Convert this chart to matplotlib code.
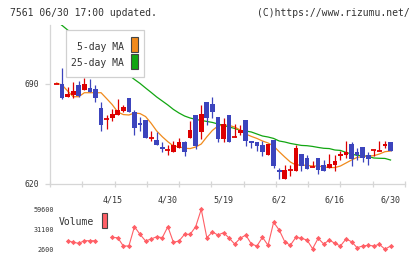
import numpy as np
import matplotlib
matplotlib.use("Agg")
import matplotlib.pyplot as plt
from matplotlib.patches import Rectangle

W, H = 420, 259

# daily candles (index 0 .. 60)
opens = [690, 690, 680.7, 682.3, 689.3, 685.8, 687.2, 686.5, 673.2, 665.3,
         666.4, 668.1, 671.1, 680.2, 670.4, 662.5, 664.8, 652.4, 650.8, 646.1,
         643.8, 642.6, 645.4, 649.4, 652.4, 668.3, 656.6, 677.4, 676, 666.9,
         651.7, 668.3, 652.7, 655.9, 664.8, 650.1, 649.4, 647.3, 640.3, 651,
         629.8, 623.7, 629.8, 629.1, 641.2, 638.2, 631.9, 638.2, 633.3, 631.4,
         633.3, 639.6, 640.3, 648, 642.4, 645.9, 640.3, 643.8, 643.1, 646.6,
         649.4]
highs = [690, 701.4, 687.7, 691.6, 692.1, 694, 693.5, 689.3, 677.6, 668.3,
         672.7, 679.5, 675.1, 680.2, 671.8, 666.9, 664.8, 656.9, 656.4, 649.6,
         647.3, 650.3, 652.2, 650.3, 664.1, 668.3, 675.3, 677.4, 680.9, 666.9,
         666.2, 668.3, 662, 661.3, 664.8, 650.1, 649.4, 650.1, 648, 651,
         631.2, 633.3, 633.3, 647.3, 641.2, 640.3, 636.1, 638.2, 636.8, 641,
         640.3, 643.1, 650.1, 649.4, 645.2, 645.9, 642.4, 643.8, 650.1, 650.1,
         649.4]
lows = [690, 679.3, 680.7, 680, 681, 685.8, 684.6, 677.4, 657.3, 658.7,
        664.3, 668.1, 670.6, 670.6, 654.3, 656.9, 652.4, 650.1, 647.3, 642.4,
        640.3, 642.6, 645.4, 639.6, 652.4, 644.5, 651.7, 661.3, 666, 649.6,
        649.6, 649.6, 652.7, 654.3, 646.6, 645.4, 643.3, 639.6, 640.3, 631.2,
        623.7, 623.7, 625.6, 629.1, 629.1, 630.5, 631.9, 627, 629.3, 631.4,
        629.3, 636.8, 638.2, 632.6, 636.8, 635.4, 633.3, 639.6, 643.1, 645.4,
        643.1]
closes = [690, 680.2, 683, 685.1, 681.8, 690, 684.6, 680.4, 661.5, 665.3,
          669, 671.8, 673.9, 670.6, 659.4, 661.1, 652.4, 652.4, 647.3, 644.5,
          643.8, 647.3, 649.4, 642.6, 657.8, 646.6, 669, 666, 670.2, 651.7,
          662, 649.6, 652.7, 657.8, 650.3, 648.9, 646.8, 642.4, 648, 632.6,
          628.6, 629.8, 629.8, 645.4, 632.6, 630.5, 631.9, 629.8, 629.3, 634,
          636.1, 641, 642.4, 637.5, 640.3, 638.2, 637.7, 643.8, 643.1, 648,
          643.1]

ma5 = [690.7, 689.3, 685.1, 681.1, 681.1, 683.9, 683.9, 683.9, 683.9, 679.8,
       675.6, 670.4, 668.6, 668.3, 669.7, 669.3, 667.2, 662.5, 657.1, 653.1,
       649.6, 646.6, 646.1, 645.0, 644.8, 645.9, 648.0, 653.0, 657.5, 660.6,
       661.3, 661.0, 659.9, 657.8, 655.0, 653.3, 651.9, 650.1, 648.7, 646.6,
       642.6, 638.9, 635.4, 633.3, 633.3, 633.0, 632.6, 632.6, 631.9, 631.5,
       631.5, 632.6, 634.7, 636.8, 638.6, 639.2, 639.6, 639.8, 641.0, 642.6,
       643.1]
ma25 = [734.1, 731.0, 727.8, 725.0, 722.2, 719.4, 716.3, 713.1, 710.3, 707.5,
        704.7, 701.9, 699.1, 696.3, 693.2, 690.4, 687.2, 684.1, 680.9, 678.1,
        675.3, 672.2, 669.7, 667.6, 666.2, 665.2, 664.5, 663.8, 663.1, 662.0,
        661.0, 659.9, 658.9, 657.5, 657.1, 656.4, 655.0, 653.6, 652.9, 651.9,
        650.1, 649.4, 648.4, 647.7, 647.0, 646.8, 646.3, 645.6, 645.0, 644.8,
        643.8, 643.5, 642.1, 641.0, 640.0, 639.8, 639.3, 638.2, 638.0, 637.9,
        636.8]

nan = float("nan")
volume = [nan, nan, 14400, 12150, 10700, 14400, 14400, 14400, nan, nan,
          19000, 18700, 6900, 6900, 34400, 23500, 14000, 16850, 20100, 18700,
          34400, 12150, 14000, 23500, 23500, 34400, 59200, 18700, 26800, 22550,
          25800, 18300, 9700, 17850, 22550, 9700, 6900, 19300, 7900, 40650,
          29700, 13000, 7900, 19300, 17850, 15400, 3000, 17850, 9700, 15400,
          10700, 6900, 16850, 13000, 4450, 6900, 7900, 6900, 9300, 2200,
          6900]

date_pos = [10, 20, 30, 40, 50, 60]
date_labels = ["4/15", "4/30", "5/19", "6/2", "6/16", "6/30"]
price_ticks = [620, 690]
vol_ticks = [2600, 31100, 59600]

RED = "#dd0000"
BLUE = "#3c44bd"
ORANGE = "#f08a1c"
GREEN = "#12a612"
VOLC = "#ff5f66"
GRID = "#d6d6d6"
TXT = "#333333"
mono = "DejaVu Sans Mono"


def fx(x):
    return x / W


def fy(y):
    return 1 - y / H


fig = plt.figure(figsize=(W / 100, H / 100), dpi=100)
fig.patch.set_facecolor("white")

# price panel
ax = fig.add_axes([fx(50), fy(184), fx(405) - fx(50), fy(25) - fy(184)])
ax.set_xlim(-1.17, 62.6)
ax.set_ylim(620, 731.3)

idx = np.arange(len(opens))
o, h, l, c = map(np.array, (opens, highs, lows, closes))
cols = np.where(c >= o, RED, BLUE)

ax.plot(idx, ma25, color=GREEN, lw=0.9, zorder=2)
ax.plot(idx, ma5, color=ORANGE, lw=0.9, zorder=2)

ax.vlines(idx, l, h, colors=cols, linewidth=0.9, zorder=3)
body = np.abs(c - o)
flat = body < 0.6
ax.bar(idx[~flat], body[~flat], bottom=np.minimum(o, c)[~flat], width=0.84,
       color=cols[~flat], linewidth=0, zorder=4)
ax.hlines(o[flat], idx[flat] - 0.45, idx[flat] + 0.45, colors=cols[flat],
          linewidth=1.3, zorder=4)

for s in ["top", "right"]:
    ax.spines[s].set_visible(False)
for s in ["left", "bottom"]:
    ax.spines[s].set_color(GRID)
    ax.spines[s].set_linewidth(0.9)

ax.set_yticks(price_ticks, [str(p) for p in price_ticks], family=mono)
ax.tick_params(axis="y", length=3.6, width=0.9, color=GRID, pad=4,
               labelsize=5.8, labelcolor=TXT)
ax.set_xticks(date_pos, date_labels, family=mono)
x0, x1 = ax.get_xlim()
ax.set_xticks(np.linspace(x0, x1, 12), minor=True)
ax.tick_params(axis="x", which="major", length=0, pad=8.5, labelsize=6,
               labelcolor=TXT)
ax.tick_params(axis="x", which="minor", direction="inout", length=5,
               width=0.9, color=GRID)

# volume panel
axv = fig.add_axes([fx(50), fy(249), fx(405) - fx(50), fy(209) - fy(249)])
axv.set_xlim(x0, x1)
axv.set_ylim(2600, 59600)
axv.plot(idx, volume, color=VOLC, lw=0.8, marker="D", ms=2.7, mew=0,
         mfc=VOLC, clip_on=False)
axv.patch.set_visible(False)
for s in axv.spines.values():
    s.set_visible(False)
axv.set_xticks([])
axv.set_yticks(vol_ticks, [str(v) for v in vol_ticks], family=mono)
axv.tick_params(axis="y", length=0, pad=-2.9, labelsize=4.9, labelcolor=TXT)

# header
fig.text(fx(10), fy(12.5), "7561 06/30 17:00 updated.", ha="left", va="center",
         size=7, family=mono, color=TXT)
fig.text(fx(410), fy(12.5), "(C)https://www.rizumu.net/", ha="right",
         va="center", size=7, family=mono, color=TXT)

# MA legend
fig.patches.append(Rectangle((fx(65.7), fy(77)), 78 / W, 46.7 / H,
                             transform=fig.transFigure, facecolor="white",
                             edgecolor="#d0d0d0", lw=0.9, zorder=5))
fig.patches.append(Rectangle((fx(131), fy(52.3)), 6.7 / W, 15.3 / H,
                             transform=fig.transFigure, facecolor=ORANGE,
                             edgecolor="#444444", lw=0.8, zorder=6))
fig.patches.append(Rectangle((fx(131), fy(69.3)), 6.7 / W, 15.3 / H,
                             transform=fig.transFigure, facecolor=GREEN,
                             edgecolor="#444444", lw=0.8, zorder=6))
fig.text(fx(124), fy(46.5), "5-day MA", ha="right", va="center", size=7,
         family=mono, color=TXT, zorder=7)
fig.text(fx(124), fy(62.5), "25-day MA", ha="right", va="center", size=7,
         family=mono, color=TXT, zorder=7)

# volume legend
fig.text(fx(58.7), fy(222.3), "Volume", ha="left", va="center", size=7,
         family=mono, color=TXT)
fig.patches.append(Rectangle((fx(101.7), fy(228.3)), 5.6 / W, 15 / H,
                             transform=fig.transFigure, facecolor=VOLC,
                             edgecolor="#444444", lw=0.8, zorder=6))

fig.savefig("out.png", dpi=100)
